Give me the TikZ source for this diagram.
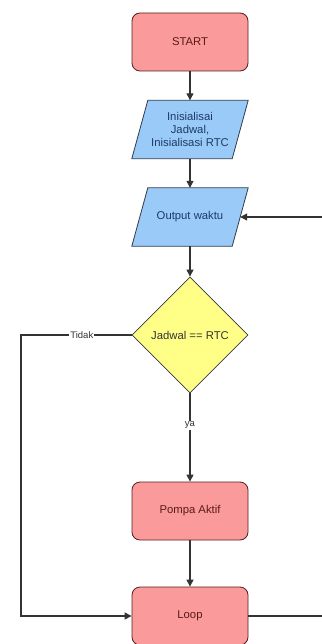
\documentclass[tikz,border=0pt]{standalone}
\usepackage{fontspec}
\setmainfont{Liberation Sans}
\usetikzlibrary{shapes.geometric,arrows.meta,backgrounds}
\definecolor{redfill}{HTML}{FA9A9A}
\definecolor{redline}{HTML}{5A1E1E}
\definecolor{redtext}{HTML}{5A1A1A}
\definecolor{bluefill}{HTML}{9ACBF8}
\definecolor{blueline}{HTML}{2F3A4A}
\definecolor{bluetext}{HTML}{1E3A66}
\definecolor{yelfill}{HTML}{FFFF88}
\definecolor{yelline}{HTML}{36393D}
\definecolor{conn}{HTML}{333333}
\tikzset{
  redbox/.style={draw=redline, fill=redfill, rounded corners=8bp, minimum width=116bp, minimum height=58bp, inner sep=0pt, text=redtext, font=\fontsize{11.3bp}{13bp}\selectfont, line width=0.8bp},
  iobox/.style={rectangle, minimum width=116bp, minimum height=58bp, inner sep=0pt, text=bluetext, align=center, font=\fontsize{11.3bp}{13bp}\selectfont},
  ioshape/.style={draw=blueline, fill=bluefill, line width=0.8bp},
  decbox/.style={diamond, draw=yelline, fill=yelfill, minimum width=116bp, minimum height=116bp, inner sep=0pt, aspect=1, text=black!80, font=\fontsize{11.3bp}{13bp}\selectfont, line width=0.8bp},
  arr/.style={draw=conn, line width=1.2bp, -{Triangle[length=7bp,width=7bp]}},
  lbl/.style={fill=white, inner sep=1bp, text=black!80, font=\fontsize{9.5bp}{11bp}\selectfont}
}
\begin{document}
\begin{tikzpicture}[x=1bp,y=-1bp]
\useasboundingbox (0,0) rectangle (321,644);
\node[redbox] (start) at (190,42) {START};
\node[iobox] (init) at (190,129.5) {Inisialisai\\Jadwal,\\Inisialisasi RTC};
\node[iobox] (out) at (190,217) {Output waktu};
\node[decbox] (dec) at (190,335) {Jadwal == RTC};
\node[redbox] (pompa) at (190,511) {Pompa Aktif};
\node[redbox] (loop) at (190,616) {Loop};
\begin{scope}[on background layer]
\fill[white] (0,0) rectangle (321,644);
\foreach \n in {init,out}{
  \draw[ioshape] ([xshift=16bp]\n.north west) -- (\n.north east) -- ([xshift=-16bp]\n.south east) -- (\n.south west) -- cycle;
}
\end{scope}
\coordinate (lc) at (21,335);
\coordinate (rc) at (340,616);
\coordinate (outr) at ([xshift=-8bp]out.east);
\draw[arr] (start) -- (init);
\draw[arr] (init) -- (out);
\draw[arr] (out) -- (dec);
\draw[arr] (dec.south) -- node[lbl, pos=0.36] {ya} (pompa.north);
\draw[arr] (pompa) -- (loop);
\draw[arr] (dec.west) -- node[lbl, pos=0.45] {Tidak} (lc) |- (loop.west);
\draw[arr] (loop.east) -- (rc) |- (outr);
\end{tikzpicture}
\end{document}
